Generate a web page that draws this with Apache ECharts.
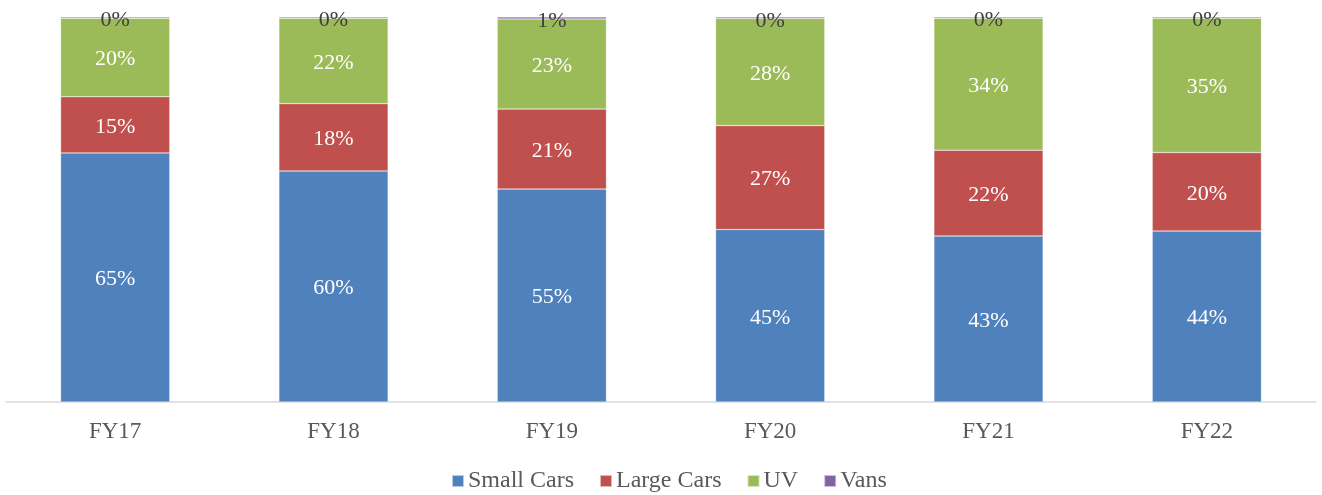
<!DOCTYPE html>
<html>
<head>
<meta charset="utf-8">
<script src="https://cdn.jsdelivr.net/npm/echarts@6/dist/echarts.min.js"></script>
<style>html,body{margin:0;padding:0;background:#fff;}#c{width:1322px;height:495px;}</style>
</head>
<body>
<div id="c"></div>
<script>
var categories = ['FY17', 'FY18', 'FY19', 'FY20', 'FY21', 'FY22'];
var smallCars = [64.7, 60.0, 55.3, 44.8, 43.1, 44.4];
var largeCars = [14.6, 17.5, 20.8, 27.0, 22.3, 20.4];
var uv = [20.4, 22.2, 23.4, 27.8, 34.3, 34.9];
var vans = [0.3, 0.3, 0.5, 0.4, 0.3, 0.3];

var FONT = '"Liberation Serif", "Times New Roman", serif';
function fmt(p) { return Math.round(p.value) + '%'; }
function mk(name, data, color, labelColor, offset) {
  return {
    name: name, type: 'bar', stack: 'total', data: data, barWidth: '50%',
    itemStyle: { color: color, borderColor: 'rgba(255,255,255,0.6)', borderWidth: 0.5 },
    label: { show: true, position: 'inside', formatter: fmt, color: labelColor,
      fontFamily: FONT, fontSize: 22, offset: offset || [0, 2] },
    emphasis: { disabled: true }
  };
}
var chart = echarts.init(document.getElementById('c'), null, { renderer: 'canvas' });
chart.setOption({
  animation: false,
  grid: { left: 6, right: 6, top: 17, bottom: 93, containLabel: false },
  legend: {
    top: 464, left: 446, itemWidth: 12, itemHeight: 12, itemGap: 25,
    icon: 'rect',
    textStyle: { fontFamily: FONT, fontSize: 24, color: '#595959', padding: [0, 0, 0, -1] },
    data: ['Small Cars', 'Large Cars', 'UV', 'Vans']
  },
  xAxis: {
    type: 'category', data: categories,
    axisLine: { lineStyle: { color: '#D9D9D9', width: 1.5 } },
    axisTick: { show: false },
    axisLabel: { fontFamily: FONT, fontSize: 23, color: '#595959', margin: 18 }
  },
  yAxis: { type: 'value', min: 0, max: 100, show: false, splitLine: { show: false } },
  series: [
    mk('Small Cars', smallCars, '#4F81BD', '#ffffff'),
    mk('Large Cars', largeCars, '#C0504D', '#ffffff'),
    mk('UV', uv, '#9BBB59', '#ffffff'),
    mk('Vans', vans, '#8064A2', '#404040', [0, 3])
  ]
});
</script>
</body>
</html>
